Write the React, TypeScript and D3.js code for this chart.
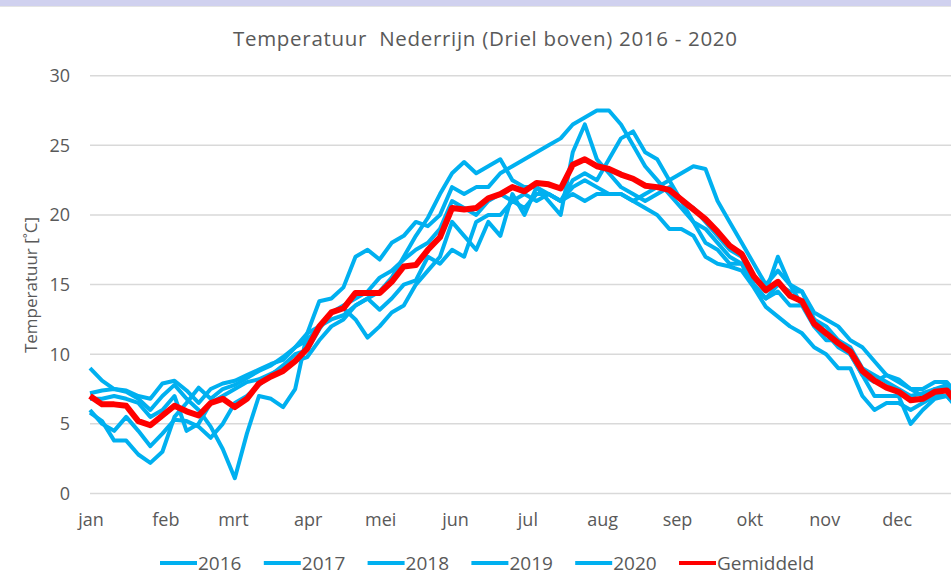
import { useEffect, useRef } from 'react';
import * as d3 from 'd3';

// day of year for each reading (every 5 days)
const days = d3.range(0, 361, 5);

const monthStarts = [0, 31, 59, 90, 120, 151, 181, 212, 243, 273, 304, 334];
const monthLabels = ['jan', 'feb', 'mrt', 'apr', 'mei', 'jun', 'jul', 'aug', 'sep', 'okt', 'nov', 'dec'];
const yTicks = [0, 5, 10, 15, 20, 25, 30];

const t2016 = [
  9.0, 8.1, 7.5, 7.4, 7.0, 6.8, 7.9, 8.1, 7.4, 6.5, 7.5, 7.9, 8.1,
  8.5, 8.9, 9.3, 9.6, 10.5, 11.0, 12.0, 13.0, 13.5, 14.0, 14.5, 15.5, 16.0, 16.8, 17.5, 18.0,
  19.0, 21.0, 20.5, 20.0, 21.0, 21.5, 21.0, 21.5, 21.0, 21.5, 21.0, 22.5, 23.0, 22.5,
  24.0, 25.5, 26.0, 24.5, 24.0, 22.5, 21.0, 20.5, 19.5, 18.5, 17.5, 17.0, 15.5, 14.5,
  17.0, 15.0, 14.5, 13.0, 12.5, 12.0, 11.0, 10.5, 9.5, 8.5, 8.0, 7.5, 7.5, 8.0, 8.0, 7.0,
];
const t2017 = [
  5.8, 5.2, 3.8, 3.8, 2.8, 2.2, 3.0, 5.5, 6.5, 7.6, 6.8, 7.5, 7.8,
  8.3, 8.8, 9.2, 9.8, 10.5, 11.5, 12.0, 12.5, 12.8, 13.5, 14.0, 14.5, 15.5, 17.0, 18.5, 19.8,
  21.5, 23.0, 23.8, 23.0, 23.5, 24.0, 22.5, 22.0, 22.0, 21.5, 21.0, 22.0, 22.5, 22.0,
  21.5, 21.5, 21.0, 21.5, 22.0, 22.5, 23.0, 23.5, 23.3, 21.0, 19.5, 18.0, 16.5, 15.0,
  16.0, 15.0, 13.5, 12.5, 11.5, 10.5, 10.0, 8.5, 8.0, 8.5, 8.2, 7.5, 7.0, 7.5, 7.5, 6.5,
];
const t2018 = [
  7.2, 7.4, 7.5, 7.3, 6.8, 6.0, 7.0, 7.8, 6.8, 6.0, 4.8, 3.2, 1.1,
  4.3, 7.0, 6.8, 6.2, 7.5, 11.5, 13.8, 14.0, 14.8, 17.0, 17.5, 16.8, 18.0, 18.5, 19.5, 19.2,
  20.0, 22.0, 21.5, 22.0, 22.0, 23.0, 23.5, 24.0, 24.5, 25.0, 25.5, 26.5, 27.0, 27.5,
  27.5, 26.5, 25.0, 23.5, 22.5, 21.5, 20.5, 19.5, 19.0, 18.0, 17.0, 16.5, 15.0, 14.0,
  15.0, 14.5, 14.5, 12.5, 12.0, 11.0, 10.5, 9.0, 8.5, 8.0, 7.5, 7.0, 7.2, 7.5, 7.8, 6.5,
];
const t2019 = [
  6.0, 5.0, 4.5, 5.5, 4.5, 3.4, 4.3, 5.3, 5.2, 4.8, 4.0, 5.0, 6.5,
  7.0, 7.8, 8.5, 9.2, 10.0, 10.3, 11.8, 13.0, 13.3, 12.5, 11.2, 12.0, 13.0, 13.5, 15.0, 16.0,
  17.0, 19.5, 18.5, 17.5, 19.5, 18.5, 21.5, 20.0, 22.0, 21.0, 20.0, 24.5, 26.5, 24.0,
  23.0, 22.0, 21.5, 21.0, 21.5, 22.0, 21.0, 19.5, 18.0, 17.5, 16.5, 16.5, 15.0, 14.0,
  14.5, 13.5, 13.5, 12.0, 11.0, 11.0, 10.0, 8.5, 7.0, 7.0, 7.0, 5.0, 6.0, 6.8, 7.0, 6.0,
];
const t2020 = [
  6.8, 6.8, 7.0, 6.8, 6.5, 5.5, 6.0, 7.0, 4.5, 5.0, 6.5, 7.0, 7.5,
  8.0, 8.2, 8.6, 9.0, 9.5, 9.8, 11.0, 12.0, 12.5, 13.5, 14.0, 13.2, 14.0, 15.0, 15.3, 17.0,
  16.5, 17.5, 17.0, 19.5, 20.0, 20.0, 21.0, 20.5, 21.5, 21.5, 21.0, 21.5, 21.0, 21.5,
  21.5, 21.5, 21.0, 20.5, 20.0, 19.0, 19.0, 18.5, 17.0, 16.5, 16.3, 16.0, 14.8, 13.4,
  12.7, 12.0, 11.5, 10.5, 10.0, 9.0, 9.0, 7.0, 6.0, 6.5, 6.5, 6.0, 6.5, 7.0, 7.0, 6.0,
];
const gemiddeld = [
  7.0, 6.4, 6.4, 6.3, 5.2, 4.9, 5.6, 6.3, 5.9, 5.6, 6.5, 6.8, 6.2,
  6.8, 7.9, 8.4, 8.8, 9.5, 10.4, 12.0, 13.0, 13.3, 14.4, 14.4, 14.4, 15.2, 16.3, 16.4, 17.5,
  18.4, 20.5, 20.4, 20.5, 21.2, 21.5, 22.0, 21.7, 22.3, 22.2, 21.9, 23.6, 24.0, 23.5,
  23.3, 22.9, 22.6, 22.1, 22.0, 21.8, 21.1, 20.4, 19.7, 18.8, 17.8, 17.2, 15.6, 14.6,
  15.2, 14.2, 13.8, 12.2, 11.5, 10.8, 10.2, 8.8, 8.1, 7.6, 7.3, 6.7, 6.8, 7.3, 7.4, 6.3,
];

const seriesNames = ['2016', '2017', '2018', '2019', '2020', 'Gemiddeld'];
const seriesValues = [t2016, t2017, t2018, t2019, t2020, gemiddeld];

const W = 951;
const H = 588;
const BLUE = '#00b0f0';
const RED = '#ff0000';
const TEXT = '#595959';
const FONT = '"Open Sans", sans-serif';

export default function App() {
  const svgRef = useRef<SVGSVGElement>(null);

  useEffect(() => {
    if (!svgRef.current) return;
    const svg = d3.select(svgRef.current);
    svg.selectAll('*').remove();

    const x = d3.scaleLinear().domain([0, 365]).range([90, 971]);
    const y = d3.scaleLinear().domain([0, 30]).range([493.5, 75.7]);

    svg.append('rect').attr('width', W).attr('height', H).attr('fill', '#fff');
    // top band
    svg.append('rect').attr('width', W).attr('height', 6).attr('fill', '#d0d1ef');
    svg.append('line').attr('x1', 0).attr('x2', W).attr('y1', 6.5).attr('y2', 6.5)
      .attr('stroke', '#e4e4e4').attr('stroke-width', 1);

    // title
    svg.append('text')
      .attr('x', 485).attr('y', 46)
      .attr('text-anchor', 'middle')
      .attr('font-family', FONT).attr('font-size', 20.5)
      .attr('fill', TEXT)
      .attr('textLength', 504)
      .attr('lengthAdjust', 'spacing')
      .attr('xml:space', 'preserve')
      .text('Temperatuur  Nederrijn (Driel boven) 2016 - 2020');

    // gridlines + y labels
    const g = svg.append('g');
    g.selectAll('line.grid')
      .data(yTicks)
      .join('line')
      .attr('class', 'grid')
      .attr('x1', 90).attr('x2', W)
      .attr('y1', d => y(d)).attr('y2', d => y(d))
      .attr('stroke', '#d9d9d9').attr('stroke-width', 1.5);

    g.selectAll('text.ytick')
      .data(yTicks)
      .join('text')
      .attr('class', 'ytick')
      .attr('x', 70).attr('y', d => y(d))
      .attr('dy', '0.35em')
      .attr('text-anchor', 'end')
      .attr('font-family', FONT).attr('font-size', 18)
      .attr('fill', TEXT)
      .text(d => d);

    // x labels
    g.selectAll('text.xtick')
      .data(monthStarts)
      .join('text')
      .attr('class', 'xtick')
      .attr('x', d => x(d) + 1).attr('y', 526)
      .attr('text-anchor', 'middle')
      .attr('font-family', FONT).attr('font-size', 18)
      .attr('fill', TEXT)
      .text((_, i) => monthLabels[i]);

    // y axis title
    svg.append('text')
      .attr('transform', 'translate(31,285) rotate(-90)')
      .attr('text-anchor', 'middle')
      .attr('dy', '0.35em')
      .attr('font-family', FONT).attr('font-size', 17)
      .attr('fill', TEXT)
      .text('Temperatuur [˚C]');

    // lines
    const line = d3.line<number>()
      .x((_, i) => x(days[i]))
      .y(d => y(d))
      .curve(d3.curveLinear);

    seriesValues.forEach((vals, i) => {
      const isAvg = i === seriesValues.length - 1;
      svg.append('path')
        .datum(vals)
        .attr('fill', 'none')
        .attr('stroke', isAvg ? RED : BLUE)
        .attr('stroke-width', isAvg ? 6 : 4)
        .attr('stroke-linejoin', 'round')
        .attr('d', line);
    });

    // legend
    const legend = svg.append('g');
    const item = legend.selectAll('g')
      .data(seriesNames)
      .join('g')
      .attr('transform', (_, i) => `translate(${160 + i * 103.8},563)`);
    item.append('line')
      .attr('x1', 0).attr('x2', 37)
      .attr('stroke', (_, i) => (i === seriesNames.length - 1 ? RED : BLUE))
      .attr('stroke-width', 4);
    item.append('text')
      .attr('x', 38)
      .attr('dy', '0.35em')
      .attr('font-family', FONT).attr('font-size', 19)
      .attr('fill', TEXT)
      .text(d => d);
  }, []);

  return (
    <svg
      ref={svgRef}
      width={W}
      height={H}
      style={{ position: 'absolute', left: 0, top: 0, display: 'block' }}
    />
  );
}
